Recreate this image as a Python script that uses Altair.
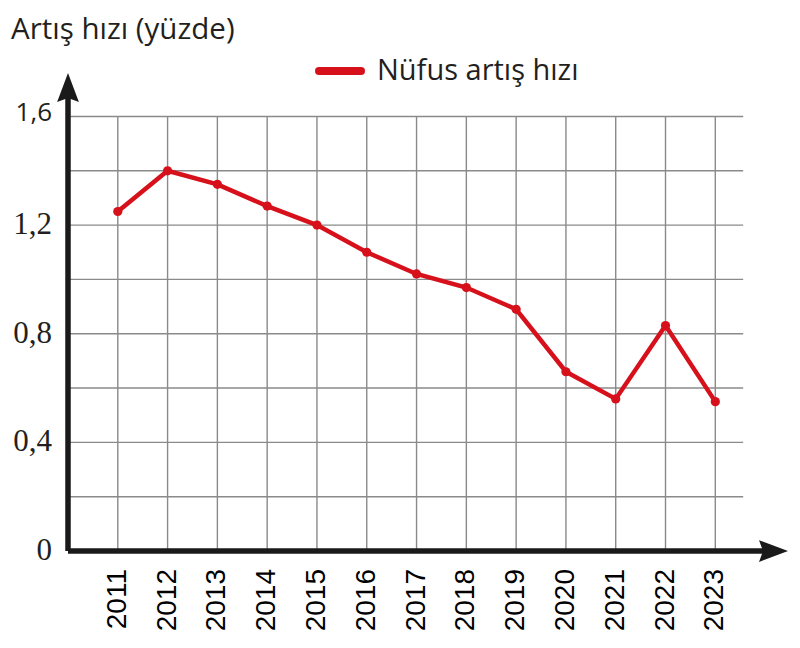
import altair as alt
import pandas as pd

# ---- data ----
years = [2011, 2012, 2013, 2014, 2015, 2016, 2017, 2018, 2019, 2020, 2021, 2022, 2023]
growth = [1.25, 1.40, 1.35, 1.27, 1.20, 1.10, 1.02, 0.97, 0.89, 0.66, 0.56, 0.83, 0.55]
y_ticks = [0, 0.2, 0.4, 0.6, 0.8, 1.0, 1.2, 1.4, 1.6]
grid_y = [0.2, 0.4, 0.6, 0.8, 1.0, 1.2, 1.4, 1.6]
serif_label_values = [0, 0.4, 0.8, 1.2]
serif_label_text = ["0", "0,4", "0,8", "1,2"]
sans_label_values = [1.6]
sans_label_text = ["1,6"]
title_text = "Artış hızı (yüzde)"
legend_text = "Nüfus artış hızı"

# ---- layout / scale settings ----
W, H = 720, 478
X_MIN, X_MAX = 2010, 2024.46
Y_MIN, Y_MAX = 0, 1.76
GRID_X_END = 2023.56
RED = "#d7111b"
GRID = "#8a8a8a"
INK = "#1a1a1a"
TEXT = "#231f20"
SANS = "Open Sans"

xs = alt.Scale(domain=[X_MIN, X_MAX], nice=False, zero=False)
ys = alt.Scale(domain=[Y_MIN, Y_MAX], nice=False)

df = pd.DataFrame({"year": years, "rate": growth})
hgrid = pd.DataFrame({"y": grid_y, "x0": [X_MIN] * len(grid_y), "x1": [GRID_X_END] * len(grid_y)})
vgrid = pd.DataFrame({"x": years, "y0": [0] * len(years), "y1": [1.6] * len(years)})
one = pd.DataFrame({"k": [0]})
year_lbl = pd.DataFrame({"year": years, "label": [str(y) for y in years]})
serif_lbl = pd.DataFrame({"v": serif_label_values, "label": serif_label_text})
sans_lbl = pd.DataFrame({"v": sans_label_values, "label": sans_label_text})

# invisible layer that carries the (tick-only) y axis
axes_layer = alt.Chart(df).mark_point(opacity=0).encode(
    x=alt.X("year:Q", scale=xs, axis=None),
    y=alt.Y(
        "rate:Q",
        scale=ys,
        axis=alt.Axis(
            values=y_ticks,
            title=None,
            grid=False,
            domain=False,
            labels=False,
            tickSize=8,
            tickColor=GRID,
            tickWidth=1.4,
        ),
    ),
)

h_lines = alt.Chart(hgrid).mark_rule(color=GRID, strokeWidth=1.4).encode(
    x=alt.X("x0:Q", scale=xs, axis=None),
    x2="x1:Q",
    y=alt.Y("y:Q", scale=ys, axis=None),
)
v_lines = alt.Chart(vgrid).mark_rule(color=GRID, strokeWidth=1.4).encode(
    x=alt.X("x:Q", scale=xs, axis=None),
    y=alt.Y("y0:Q", scale=ys, axis=None),
    y2="y1:Q",
)

# axis shafts and arrow heads (decoration)
y_shaft = alt.Chart(one).mark_rule(color=INK, strokeWidth=5.5).encode(
    x=alt.value(0), y=alt.value(H), y2=alt.value(18)
)
x_shaft = alt.Chart(one).mark_rule(color=INK, strokeWidth=5.5).encode(
    x=alt.value(0), x2=alt.value(W - 18), y=alt.value(H)
)
arrow_path = "M0,-1 L0.75,1 L0,0.72 L-0.75,1 Z"
y_head = alt.Chart(one).mark_point(
    shape=arrow_path, filled=True, color=INK, size=841, opacity=1
).encode(x=alt.value(0), y=alt.value(14.5))
x_head = alt.Chart(one).mark_point(
    shape=arrow_path, filled=True, color=INK, size=841, opacity=1, angle=90
).encode(x=alt.value(W - 14.5), y=alt.value(H))

# tick labels
x_labels = alt.Chart(year_lbl).mark_text(
    angle=270, align="right", baseline="middle", font="Liberation Sans",
    fontSize=28, color="#000000",
).encode(x=alt.X("year:Q", scale=xs, axis=None), y=alt.value(H + 18), text="label:N")
y_labels_serif = alt.Chart(serif_lbl).mark_text(
    align="right", baseline="middle", font="Liberation Serif", fontSize=31, color=TEXT,
).encode(x=alt.value(-16), y=alt.Y("v:Q", scale=ys, axis=None), text="label:N")
y_labels_sans = alt.Chart(sans_lbl).mark_text(
    align="right", baseline="middle", font=SANS, fontSize=26, color=TEXT, dy=-3,
).encode(x=alt.value(-16), y=alt.Y("v:Q", scale=ys, axis=None), text="label:N")

line = alt.Chart(df).mark_line(color=RED, strokeWidth=4.5).encode(
    x=alt.X("year:Q", scale=xs, axis=None),
    y=alt.Y("rate:Q", scale=ys, axis=None),
)
points = alt.Chart(df).mark_point(filled=True, color=RED, size=85, opacity=1).encode(
    x=alt.X("year:Q", scale=xs, axis=None),
    y=alt.Y("rate:Q", scale=ys, axis=None),
)

leg_df = pd.DataFrame({"label": [legend_text]})
legend_line = alt.Chart(leg_df).mark_rule(color=RED, strokeWidth=8, strokeCap="round").encode(
    x=alt.value(251), x2=alt.value(293), y=alt.value(-2)
)
legend_label = alt.Chart(leg_df).mark_text(
    align="left", baseline="alphabetic", font=SANS, fontSize=29, color=TEXT
).encode(x=alt.value(309), y=alt.value(7), text="label:N")

title_df = pd.DataFrame({"label": [title_text]})
title = alt.Chart(title_df).mark_text(
    align="left", baseline="alphabetic", font=SANS, fontSize=29.5, color=TEXT
).encode(x=alt.value(-57), y=alt.value(-34), text="label:N")

chart = alt.layer(
    axes_layer, h_lines, v_lines, line, points, y_shaft, x_shaft, y_head, x_head,
    x_labels, y_labels_serif, y_labels_sans,
    legend_line, legend_label, title,
).properties(
    width=W,
    height=H,
    padding={"left": 60, "top": 65, "right": 4, "bottom": 85},
    autosize=alt.AutoSizeParams(type="none"),
    background="#ffffff",
).configure_view(stroke=None)

chart.save("out.html", embed_options={"renderer": "svg", "actions": False})
